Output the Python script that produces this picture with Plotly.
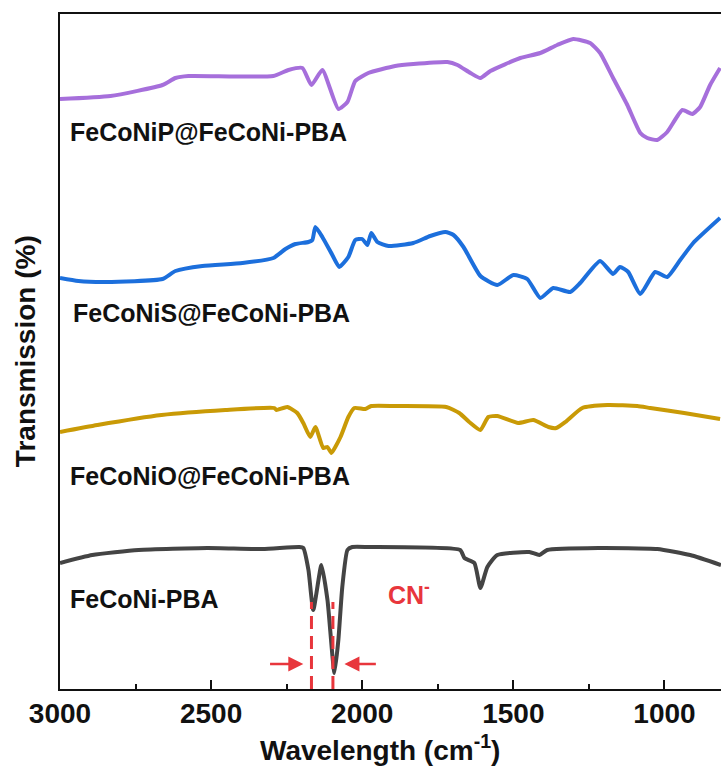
import plotly.graph_objects as go

# FTIR spectra, stacked with vertical offsets (arbitrary transmission units)
wn_p = [3000, 2833, 2661, 2618, 2575, 2294, 2244, 2198, 2168, 2132, 2079, 2049, 2023, 1980,
        1891, 1831, 1718, 1685, 1642, 1609, 1576, 1477, 1411, 1355, 1302, 1246, 1213, 1170,
        1123, 1080, 1057, 1024, 991, 941, 908, 882, 849, 816]
tr_p = [590, 593, 604, 611, 613, 613, 619, 621, 604, 619, 580, 587, 608, 616,
        623, 625, 627, 624, 616, 611, 618, 631, 636, 644, 650, 646, 636, 611,
        584, 556, 551, 549, 557, 579, 575, 582, 604, 621]

wn_s = [3000, 2939, 2849, 2661, 2618, 2529, 2396, 2294, 2254, 2221, 2178, 2165, 2155, 2132,
        2099, 2076, 2046, 2023, 2000, 1983, 1970, 1950, 1913, 1831, 1775, 1725, 1698, 1665,
        1609, 1553, 1500, 1454, 1411, 1368, 1312, 1279, 1213, 1170, 1147, 1120, 1080, 1031,
        991, 948, 905, 816]
tr_s = [411, 408, 407, 410, 418, 423, 426, 431, 440, 445, 447, 449, 462, 452,
        434, 422, 432, 449, 450, 444, 456, 447, 443, 446, 453, 457, 454, 442,
        413, 404, 414, 410, 391, 401, 397, 406, 428, 415, 422, 417, 395, 417,
        412, 429, 446, 471]

wn_o = [3000, 2876, 2664, 2453, 2291, 2284, 2248, 2215, 2195, 2172, 2155, 2129, 2115, 2102,
        2072, 2046, 2026, 1990, 1970, 1891, 1722, 1679, 1646, 1609, 1583, 1553, 1484, 1434,
        1384, 1358, 1328, 1272, 1189, 1090, 1047, 935, 816]
tr_o = [257, 264, 274, 279, 281, 279, 282, 276, 266, 252, 262, 241, 242, 236,
        252, 272, 281, 280, 283, 283, 282, 276, 267, 259, 272, 273, 266, 269,
        262, 261, 267, 281, 284, 283, 281, 276, 270]

wn_pba = [3000, 2893, 2740, 2512, 2330, 2208, 2195, 2178, 2162, 2135, 2115, 2092, 2079, 2066,
          2049, 2033, 1980, 1676, 1662, 1629, 1609, 1586, 1553, 1447, 1414, 1388, 1219, 1024,
          915, 813]
tr_pba = [126, 134, 139, 141, 140, 142, 141, 119, 79, 124, 89, 16, 49, 102,
          139, 142, 142, 139, 131, 126, 101, 122, 134, 137, 134, 139, 141, 140,
          134, 124]

names = ["FeCoNiP@FeCoNi-PBA", "FeCoNiS@FeCoNi-PBA", "FeCoNiO@FeCoNi-PBA", "FeCoNi-PBA"]
colors = ["#a66fdb", "#1c6fdc", "#c99a06", "#444444"]
series = [(wn_p, tr_p), (wn_s, tr_s), (wn_o, tr_o), (wn_pba, tr_pba)]

# label anchor positions (wavenumber, transmission)
label_x = [2972, 2962, 2972, 2975]
label_y = [557, 376, 213, 90]

# CN- stretching band markers
cn_lines = [2168, 2097]
arrow_left = (2310, 2195)
arrow_right = (1950, 2059)
arrow_y = 25

red = "#e8363c"
font_family = "Liberation Sans, Arial, sans-serif"

fig = go.Figure()
for (x, y), name, c in zip(series, names, colors):
    fig.add_trace(go.Scatter(x=x, y=y, mode="lines", name=name,
                             line=dict(color=c, width=4, shape="spline", smoothing=0.5)))

for name, lx, ly in zip(names, label_x, label_y):
    fig.add_annotation(x=lx, y=ly, xref="x", yref="y", text=name, showarrow=False,
                       xanchor="left", yanchor="middle",
                       font=dict(family=font_family, size=25, color="#111111", weight="bold"))

fig.add_annotation(x=1920, y=96, xref="x", yref="y", text="CN<sup>-</sup>", showarrow=False,
                   xanchor="left", yanchor="middle",
                   font=dict(family=font_family, size=25, color=red, weight="bold"))

for xv in cn_lines:
    fig.add_shape(type="line", x0=xv, x1=xv, y0=0, y1=87, xref="x", yref="y",
                  line=dict(color=red, width=3, dash="13px,7px"))

for tail, head in (arrow_left, arrow_right):
    fig.add_annotation(x=head, y=arrow_y, ax=tail, ay=arrow_y, xref="x", yref="y",
                       axref="x", ayref="y", text="", showarrow=True,
                       arrowhead=2, arrowsize=1.2, arrowwidth=2.5, arrowcolor=red)

# axis titles
fig.add_annotation(x=-0.052, y=0.5, xref="paper", yref="paper", text="Transmission (%)",
                   textangle=-90, showarrow=False, xanchor="center", yanchor="middle",
                   font=dict(family=font_family, size=28, color="#111111", weight="bold"))
fig.add_annotation(x=0.4845, y=-0.087, xref="paper", yref="paper",
                   text="Wavelength (cm<sup>-1</sup>)", showarrow=False,
                   xanchor="center", yanchor="middle",
                   font=dict(family=font_family, size=28, color="#111111", weight="bold"))

fig.update_layout(
    width=721, height=776,
    margin=dict(l=60, r=0, t=14, b=87),
    paper_bgcolor="white", plot_bgcolor="white",
    showlegend=False,
)
fig.update_xaxes(
    range=[3000, 813], tickvals=[3000, 2500, 2000, 1500, 1000],
    ticks="inside", ticklen=9, tickwidth=2, tickcolor="#111111",
    minor=dict(ticks="inside", ticklen=5, tickwidth=2, tickcolor="#111111",
               tickvals=[2750, 2250, 1750, 1250, 750]),
    showline=True, linewidth=2, linecolor="#111111", mirror=True,
    showgrid=False, zeroline=False, ticklabelstandoff=-2,
    tickfont=dict(family=font_family, size=28, color="#111111", weight="bold"),
)
fig.update_yaxes(
    range=[0, 675], showticklabels=False, ticks="",
    showline=True, linewidth=2, linecolor="#111111",
    showgrid=False, zeroline=False,
)

fig.write_html("out.html")
